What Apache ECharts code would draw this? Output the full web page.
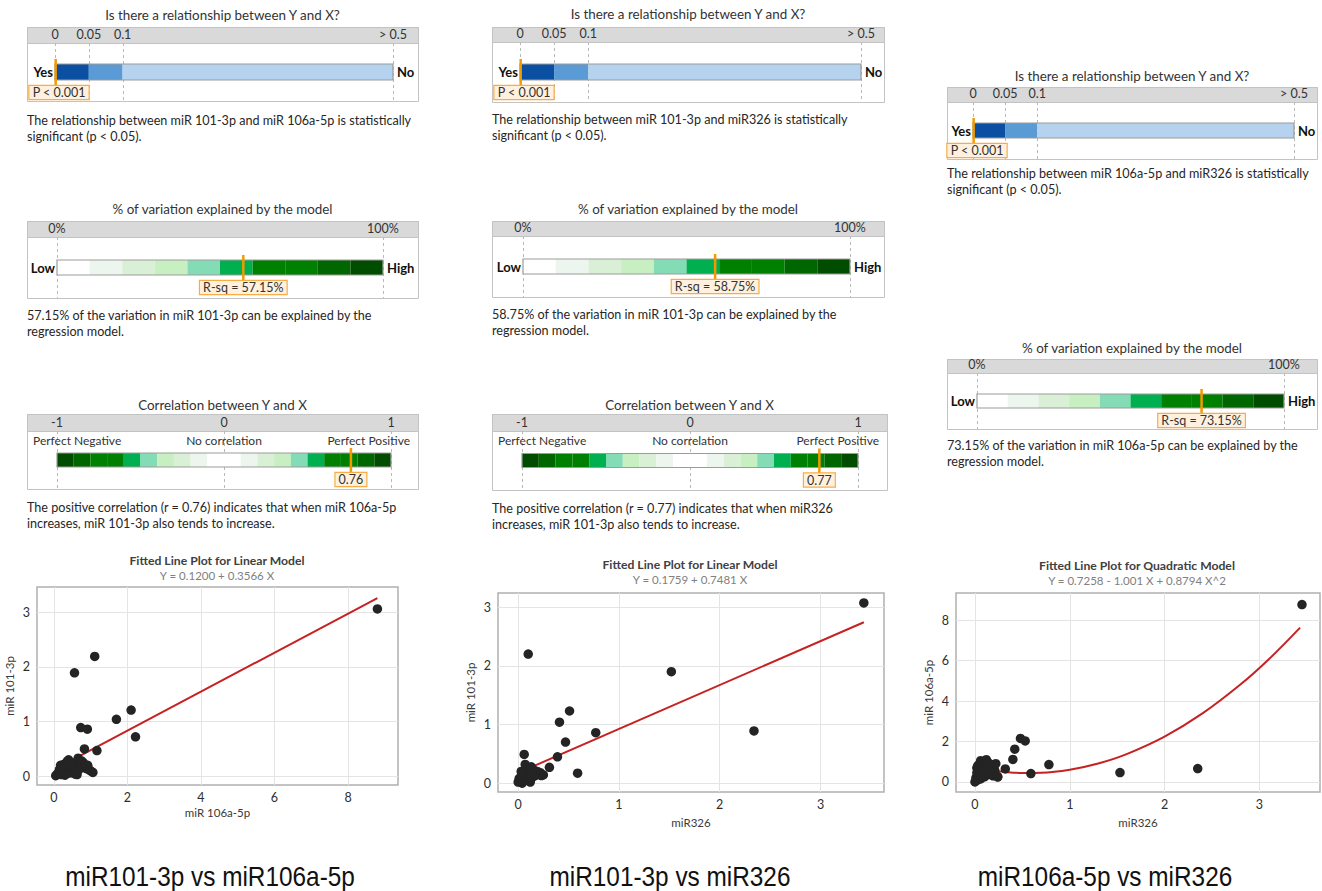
<!DOCTYPE html>
<html><head><meta charset="utf-8">
<script src="https://cdn.jsdelivr.net/npm/echarts@6/dist/echarts.min.js"></script>
<style>html,body{margin:0;padding:0;background:#fff}#c{width:1322px;height:891px}</style>
</head><body><div id="c"></div>
<script>
// ================= DATA =================
const pThresholds = [0, 0.05, 0.1, 0.5];
const pTickLabels = ['0', '0.05', '0.1', '> 0.5'];
const pDisplayStops = [0, 1, 2, 10];          // display-scale stops for the thresholds
const pValues = [0.001, 0.001, 0.001];
const pValueLabels = ['P < 0.001', 'P < 0.001', 'P < 0.001'];
const pBandColors = ['#0b4fa3', '#5b9bd5', '#b5d2ee'];
const pSideLabels = ['Yes', 'No'];

const rsqValues = [57.15, 58.75, 73.15];
const rsqTickValues = [0, 100];
const rsqTickLabels = ['0%', '100%'];
const rsqSideLabels = ['Low', 'High'];
const greenBins = ['#ffffff', '#edf6ee', '#daf0d6', '#c8efc2', '#84dcb6', '#00b050', '#008000', '#008000', '#006600', '#004d00'];

const corrValues = [0.76, 0.77];
const corrTickValues = [-1, 0, 1];
const corrTickLabels = ['-1', '0', '1'];
const corrZoneLabels = ['Perfect Negative', 'No correlation', 'Perfect Positive'];

const pTitle = 'Is there a relationship between Y and X?';
const rsqTitle = '% of variation explained by the model';
const corrTitle = 'Correlation between Y and X';

const pTexts = [
  ['The relationship between miR 101-3p and miR 106a-5p is statistically', 'significant (p < 0.05).'],
  ['The relationship between miR 101-3p and miR326 is statistically', 'significant (p < 0.05).'],
  ['The relationship between miR 106a-5p and miR326 is statistically', 'significant (p < 0.05).']
];
const rsqTexts = [
  ['57.15% of the variation in miR 101-3p can be explained by the', 'regression model.'],
  ['58.75% of the variation in miR 101-3p can be explained by the', 'regression model.'],
  ['73.15% of the variation in miR 106a-5p can be explained by the', 'regression model.']
];
const corrTexts = [
  ['The positive correlation (r = 0.76) indicates that when miR 106a-5p', 'increases, miR 101-3p also tends to increase.'],
  ['The positive correlation (r = 0.77) indicates that when miR326', 'increases, miR 101-3p also tends to increase.']
];

// scatter 1: x = miR 106a-5p, y = miR 101-3p
const scatter1 = [
  [8.80, 3.06], [1.11, 2.19], [0.56, 1.89], [2.10, 1.21], [1.70, 1.04], [2.22, 0.72], [0.73, 0.89], [0.91, 0.86],
  [0.83, 0.50], [1.17, 0.47],
  [0.05, 0.01], [0.10, 0.05], [0.15, 0.12], [0.20, 0.03], [0.22, 0.18], [0.25, 0.08], [0.28, 0.22], [0.30, 0.02],
  [0.33, 0.14], [0.36, 0.27], [0.40, 0.30], [0.40, 0.10], [0.42, 0.19], [0.45, 0.06], [0.48, 0.24], [0.50, 0.15],
  [0.52, 0.20], [0.55, 0.12], [0.58, 0.04], [0.60, 0.18], [0.63, 0.03], [0.66, 0.33], [0.70, 0.22], [0.72, 0.16],
  [0.75, 0.28], [0.78, 0.20], [0.80, 0.25], [0.85, 0.18], [0.88, 0.14], [0.92, 0.20], [0.95, 0.12], [1.00, 0.10],
  [1.06, 0.07], [0.68, 0.12], [0.35, 0.05], [0.18, 0.20]
];
const fit1 = [[0.05, 0.138], [8.80, 3.258]];
const xTicks1 = [0, 2, 4, 6, 8];
const yTicks1 = [0, 1, 2, 3];

// scatter 2: x = miR326, y = miR 101-3p
const scatter2 = [
  [3.43, 3.07], [0.10, 2.20], [1.52, 1.90], [0.51, 1.23], [0.41, 1.04], [0.77, 0.86], [2.34, 0.89], [0.47, 0.70],
  [0.39, 0.45], [0.06, 0.49], [0.59, 0.17], [0.31, 0.27], [0.23, 0.13],
  [0.00, 0.02], [0.01, 0.08], [0.02, 0.05], [0.03, 0.12], [0.04, 0.00], [0.05, 0.15], [0.06, 0.10], [0.06, 0.22],
  [0.07, 0.32], [0.08, 0.05], [0.08, 0.18], [0.09, 0.12], [0.10, 0.25], [0.10, 0.08], [0.11, 0.20], [0.12, 0.14],
  [0.13, 0.28], [0.14, 0.10], [0.15, 0.18], [0.16, 0.22], [0.17, 0.13], [0.19, 0.20], [0.20, 0.16], [0.22, 0.18],
  [0.25, 0.14], [0.03, 0.20], [0.05, 0.03], [0.12, 0.02]
];
const fit2 = [[0.00, 0.176], [3.43, 2.742]];
const xTicks2 = [0, 1, 2, 3];
const yTicks2 = [0, 1, 2, 3];

// scatter 3: x = miR326, y = miR 106a-5p
const scatter3 = [
  [3.45, 8.78], [0.48, 2.15], [0.53, 2.03], [0.42, 1.62], [0.40, 1.11], [0.78, 0.86], [0.59, 0.41], [1.53, 0.46],
  [2.35, 0.66], [0.32, 0.64], [0.24, 0.25],
  [0.00, 0.00], [0.01, 0.20], [0.02, 0.45], [0.02, 0.70], [0.03, 0.10], [0.04, 0.55], [0.05, 0.90], [0.05, 0.30],
  [0.06, 1.05], [0.07, 0.60], [0.08, 0.40], [0.08, 0.80], [0.09, 1.00], [0.10, 0.50], [0.10, 0.25], [0.11, 0.85],
  [0.12, 1.10], [0.12, 0.65], [0.13, 0.35], [0.14, 0.95], [0.15, 0.55], [0.16, 0.75], [0.17, 0.45], [0.18, 0.85],
  [0.19, 0.30], [0.20, 0.70], [0.21, 0.55], [0.22, 0.90], [0.24, 0.25], [0.03, 0.80], [0.06, 0.15]
];
const fit3 = [[0.13, 0.58], [0.30, 0.50], [0.50, 0.445], [0.70, 0.456], [1.00, 0.604], [1.30, 0.911], [1.60, 1.376],
  [2.00, 2.241], [2.40, 3.389], [2.80, 4.818], [3.10, 6.074], [3.43, 7.639]];
const xTicks3 = [0, 1, 2, 3];
const yTicks3 = [0, 2, 4, 6, 8];

const scatterTitles = ['Fitted Line Plot for Linear Model', 'Fitted Line Plot for Linear Model', 'Fitted Line Plot for Quadratic Model'];
const scatterEquations = ['Y = 0.1200 + 0.3566 X', 'Y = 0.1759 + 0.7481 X', 'Y = 0.7258 - 1.001 X + 0.8794 X^2'];
const xNames = ['miR 106a-5p', 'miR326', 'miR326'];
const yNames = ['miR 101-3p', 'miR 101-3p', 'miR 106a-5p'];
const captions = ['miR101-3p vs miR106a-5p', 'miR101-3p vs miR326', 'miR106a-5p vs miR326'];

// ================= LAYOUT =================
const FONT = 'Lato, "Noto Sans", sans-serif';
const TXT = '#262626';
const BODY = '12.6px ' + FONT;
const gaugeLayouts = [
  { kind: 'p', i: 0, box: [27, 27, 391, 74], head: 16, bar: [55, 393], barH: 16, titleY: 15, textY: 120 },
  { kind: 'p', i: 1, box: [492, 27, 392, 75], head: 15, bar: [520, 861], barH: 16, titleY: 14, textY: 119 },
  { kind: 'p', i: 2, box: [947, 87, 370, 72], head: 15, bar: [973, 1294], barH: 15, titleY: 76, textY: 173 },
  { kind: 'rsq', i: 0, box: [27, 221, 391, 77], head: 16, bar: [57, 383], barH: 15, titleY: 209, textY: 315 },
  { kind: 'rsq', i: 1, box: [492, 221, 392, 76], head: 15, bar: [523, 850], barH: 15, titleY: 209, textY: 314 },
  { kind: 'rsq', i: 2, box: [947, 359, 370, 70], head: 14, bar: [977, 1284], barH: 14, titleY: 348, textY: 445 },
  { kind: 'corr', i: 0, box: [27, 414, 391, 75], head: 17, bar: [57, 391], barH: 14, titleY: 405, textY: 507 },
  { kind: 'corr', i: 1, box: [492, 414, 395, 76], head: 17, bar: [522, 858], barH: 14, titleY: 405, textY: 508 }
];
const scatterLayouts = [
  { grid: [37, 587, 361, 198], xr: [-0.46, 9.36], yr: [-0.16, 3.46], title: [217, 560], nameGapX: 21 },
  { grid: [498, 593, 386, 199], xr: [-0.2, 3.63], yr: [-0.15, 3.24], title: [690, 564], nameGapX: 24 },
  { grid: [956, 593, 364, 199], xr: [-0.2, 3.64], yr: [-0.5, 9.35], title: [1137, 565], nameGapX: 24 }
];
const captionPos = [[210, 876], [670, 876], [1105, 876]];

function pToDisplay(p) {
  for (let k = 1; k < pThresholds.length; k++) {
    if (p <= pThresholds[k]) {
      const t = (p - pThresholds[k - 1]) / (pThresholds[k] - pThresholds[k - 1]);
      return pDisplayStops[k - 1] + t * (pDisplayStops[k] - pDisplayStops[k - 1]);
    }
  }
  return pDisplayStops[pDisplayStops.length - 1];
}

function gaugeSpec(kind, i) {
  if (kind === 'p') return {
    min: pDisplayStops[0], max: pDisplayStops[pDisplayStops.length - 1], ticks: pDisplayStops, tickLabels: pTickLabels,
    segments: pBandColors.map((c, k) => [pDisplayStops[k], pDisplayStops[k + 1], c]),
    marker: pToDisplay(pValues[i]), markerLabel: pValueLabels[i], side: pSideLabels, title: pTitle, text: pTexts[i]
  };
  if (kind === 'rsq') return {
    min: 0, max: 100, ticks: rsqTickValues, tickLabels: rsqTickLabels,
    segments: greenBins.map((c, k) => [k * 10, (k + 1) * 10, c]),
    marker: rsqValues[i], markerLabel: 'R-sq = ' + rsqValues[i].toFixed(2) + '%', side: rsqSideLabels, title: rsqTitle, text: rsqTexts[i]
  };
  const segs = [];
  for (let k = 0; k < 20; k++) {
    const s = -1 + k * 0.1, e = s + 0.1, mid = (s + e) / 2;
    segs.push([s, e, greenBins[Math.min(9, Math.floor(Math.abs(mid) * 10))]]);
  }
  return {
    min: -1, max: 1, ticks: corrTickValues, tickLabels: corrTickLabels, segments: segs,
    marker: corrValues[i], markerLabel: corrValues[i].toFixed(2), side: null, zones: corrZoneLabels, title: corrTitle, text: corrTexts[i]
  };
}

const grids = [], xAxes = [], yAxes = [], series = [], graphics = [];

// ---------- gauges ----------
gaugeLayouts.forEach((L) => {
  const S = gaugeSpec(L.kind, L.i);
  const [bx, by, bw, bh] = L.box;
  const ai = grids.length;
  grids.push({ left: L.bar[0], top: by + L.head, width: L.bar[1] - L.bar[0], height: bh - L.head });
  xAxes.push({
    gridIndex: ai, type: 'value', min: S.min, max: S.max, position: 'top', z: 5,
    axisLine: { show: false }, axisTick: { show: false, customValues: S.ticks }, splitLine: { show: false },
    axisLabel: {
      customValues: S.ticks, margin: 2, fontSize: 12.5, fontFamily: FONT, color: '#333',
      formatter: v => { const k = S.ticks.indexOf(v); return k >= 0 ? S.tickLabels[k] : ''; }
    }
  });
  yAxes.push({ gridIndex: ai, type: 'value', min: 0, max: 1, show: false });

  graphics.push({ type: 'rect', z: -10, shape: { x: bx + 0.5, y: by + 0.5, width: bw, height: bh }, style: { fill: '#fff', stroke: '#c3c3c3', lineWidth: 1 } });
  graphics.push({ type: 'rect', z: -9, shape: { x: bx + 0.5, y: by + 0.5, width: bw, height: L.head }, style: { fill: '#d9d9d9', stroke: '#c3c3c3', lineWidth: 1 } });
  graphics.push({ type: 'text', z: 10, x: bx + bw / 2, y: L.titleY, style: { text: S.title, font: '13.4px ' + FONT, fill: '#333', align: 'center', verticalAlign: 'middle' } });
  S.text.forEach((t, k) => graphics.push({ type: 'text', z: 10, x: bx, y: L.textY + k * 16, style: { text: t, font: BODY, fill: TXT, align: 'left', verticalAlign: 'middle' } }));

  series.push({
    type: 'custom', xAxisIndex: ai, yAxisIndex: ai, z: 1, silent: true, animation: false,
    data: S.ticks.map(v => [v, 0.5]),
    renderItem: (p, api) => {
      const a = api.coord([api.value(0), 1]), b = api.coord([api.value(0), 0]);
      const x = Math.round(a[0]) + 0.5;
      return { type: 'line', shape: { x1: x, y1: a[1], x2: x, y2: b[1] }, style: { stroke: '#b8b8b8', lineDash: [3, 3], lineWidth: 1 } };
    }
  });
  series.push({
    type: 'custom', xAxisIndex: ai, yAxisIndex: ai, z: 2, silent: true, animation: false,
    data: S.segments.map(s => [s[0], 0.5]),
    renderItem: (p, api) => {
      const s = S.segments[p.dataIndex];
      const a = api.coord([s[0], 0.5]), b = api.coord([s[1], 0.5]);
      return { type: 'rect', shape: { x: a[0], y: a[1] - L.barH / 2, width: b[0] - a[0], height: L.barH }, style: { fill: s[2] } };
    }
  });
  series.push({
    type: 'custom', xAxisIndex: ai, yAxisIndex: ai, z: 3, silent: true, animation: false,
    data: [[S.min, 0.5]],
    renderItem: (p, api) => {
      const a = api.coord([S.min, 0.5]), b = api.coord([S.max, 0.5]);
      const ch = [{ type: 'rect', shape: { x: a[0], y: a[1] - L.barH / 2, width: b[0] - a[0], height: L.barH }, style: { fill: 'none', stroke: '#9c9c9c', lineWidth: 1.2 } }];
      if (S.side) {
        ch.push({ type: 'text', x: a[0] - 2, y: a[1], style: { text: S.side[0], font: 'bold 13px ' + FONT, fill: '#111', align: 'right', verticalAlign: 'middle' } });
        ch.push({ type: 'text', x: b[0] + 4, y: a[1], style: { text: S.side[1], font: 'bold 13px ' + FONT, fill: '#111', align: 'left', verticalAlign: 'middle' } });
      }
      if (S.zones) {
        const zy = by + L.head + 9;
        const c0 = api.coord([0, 0.5]);
        const zf = '12px ' + FONT;
        ch.push({ type: 'text', x: bx + 6, y: zy, style: { text: S.zones[0], font: zf, fill: '#333', align: 'left', verticalAlign: 'middle' } });
        ch.push({ type: 'text', x: c0[0], y: zy, style: { text: S.zones[1], font: zf, fill: '#333', align: 'center', verticalAlign: 'middle' } });
        ch.push({ type: 'text', x: bx + bw - 8, y: zy, style: { text: S.zones[2], font: zf, fill: '#333', align: 'right', verticalAlign: 'middle' } });
      }
      return { type: 'group', children: ch };
    }
  });
  series.push({
    type: 'custom', xAxisIndex: ai, yAxisIndex: ai, z: 4, silent: true, animation: false,
    data: [[S.marker, 0.5]],
    renderItem: (p, api) => {
      const c = api.coord([api.value(0), 0.5]);
      const top = c[1] - L.barH / 2 - 5, bot = c[1] + L.barH / 2 + 6;
      const lx = Math.max(c[0], L.bar[0] + 4);
      return {
        type: 'group', children: [
          { type: 'line', shape: { x1: c[0], y1: top, x2: c[0], y2: bot }, style: { stroke: '#f39a00', lineWidth: 2.5 } },
          { type: 'text', x: lx, y: bot, style: { text: S.markerLabel, font: '12.5px ' + FONT, fill: '#333', align: 'center', verticalAlign: 'top', backgroundColor: '#fff1de', borderColor: '#f6ad45', borderWidth: 1.2, padding: [0, 3, 0, 3] } }
        ]
      };
    }
  });
});

// ---------- scatter plots ----------
const scatterSets = [[scatter1, fit1, xTicks1, yTicks1, false], [scatter2, fit2, xTicks2, yTicks2, false], [scatter3, fit3, xTicks3, yTicks3, true]];
scatterLayouts.forEach((L, si) => {
  const [pts, fit, xt, yt, smooth] = scatterSets[si];
  const ai = grids.length;
  grids.push({ left: L.grid[0], top: L.grid[1], width: L.grid[2], height: L.grid[3], show: true, borderColor: '#b0b0b0', borderWidth: 1.5, backgroundColor: '#fff' });
  const lab = { fontSize: 12.5, fontFamily: FONT, color: '#2e2e2e' };
  xAxes.push({
    gridIndex: ai, type: 'value', min: L.xr[0], max: L.xr[1], name: xNames[si], nameLocation: 'middle', nameGap: L.nameGapX,
    nameTextStyle: { fontSize: 11.5, fontFamily: FONT, color: '#3a3a3a' },
    axisLine: { show: false }, axisTick: { show: false, customValues: xt },
    axisLabel: Object.assign({ customValues: xt, margin: 6 }, lab),
    splitLine: { show: true, lineStyle: { color: '#e4e4e4', width: 1 } }
  });
  yAxes.push({
    gridIndex: ai, type: 'value', min: L.yr[0], max: L.yr[1], name: yNames[si], nameLocation: 'middle', nameGap: 22, nameRotate: 90,
    nameTextStyle: { fontSize: 11.5, fontFamily: FONT, color: '#3a3a3a' },
    axisLine: { show: false }, axisTick: { show: false, customValues: yt },
    axisLabel: Object.assign({ customValues: yt, margin: 7 }, lab),
    splitLine: { show: true, lineStyle: { color: '#e4e4e4', width: 1 } }
  });
  series.push({ type: 'line', xAxisIndex: ai, yAxisIndex: ai, data: fit, smooth: smooth ? 0.4 : false, symbol: 'none', z: 2, silent: true, animation: false, lineStyle: { color: '#c62222', width: 2 } });
  series.push({ type: 'scatter', xAxisIndex: ai, yAxisIndex: ai, data: pts, symbolSize: 9.5, z: 3, silent: true, animation: false, itemStyle: { color: '#242424', opacity: 1 } });
  graphics.push({ type: 'text', z: 10, x: L.title[0], y: L.title[1], style: { text: scatterTitles[si], font: 'bold 12.2px ' + FONT, fill: '#404040', align: 'center', verticalAlign: 'middle' } });
  graphics.push({ type: 'text', z: 10, x: L.title[0], y: L.title[1] + 15, style: { text: scatterEquations[si], font: '11.5px ' + FONT, fill: '#808080', align: 'center', verticalAlign: 'middle' } });
});

captions.forEach((c, k) => graphics.push({ type: 'text', z: 10, x: captionPos[k][0], y: captionPos[k][1], scaleX: 0.87, style: { text: c, font: '28px "Liberation Sans", Arial, sans-serif', fill: '#111', align: 'center', verticalAlign: 'middle' } }));

const chart = echarts.init(document.getElementById('c'), null, { renderer: 'svg', width: 1322, height: 891 });
chart.setOption({
  backgroundColor: '#ffffff',
  animation: false,
  grid: grids, xAxis: xAxes, yAxis: yAxes, series: series,
  graphic: { elements: graphics }
});
</script></body></html>
